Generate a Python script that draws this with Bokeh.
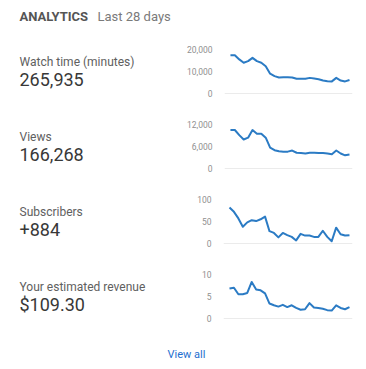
from bokeh.plotting import figure
from bokeh.layouts import column, row
from bokeh.models import Range1d, FixedTicker, NumeralTickFormatter, Span
from bokeh.core.properties import value
from bokeh.embed import file_html
from bokeh.resources import INLINE

# ---- data ----
days = list(range(28))
watch_time = [17400, 17400, 15500, 14000, 14700, 16200, 14700, 14000, 12400, 9000,
              7900, 7300, 7400, 7400, 7300, 6700, 6700, 6700, 7100, 6800,
              6500, 5900, 5600, 5500, 7100, 5900, 5500, 6100]
views = [10500, 10500, 9100, 7900, 8400, 10500, 9500, 9500, 8400, 5700,
         5000, 4700, 4600, 4600, 4900, 4300, 4200, 4100, 4300, 4300,
         4200, 4200, 4100, 3900, 4900, 4100, 3600, 3800]
subscribers = [82, 72, 57, 38, 48, 53, 51, 55, 61, 28,
               24, 14, 24, 19, 15, 7, 22, 18, 18, 15,
               15, 29, 15, 5, 36, 21, 18, 19]
revenue = [6.8, 7.0, 5.5, 5.5, 5.8, 8.3, 6.6, 6.4, 5.7, 3.4,
           3.0, 2.7, 3.1, 2.6, 3.0, 2.4, 2.0, 2.1, 3.5, 2.5,
           2.4, 2.2, 1.9, 1.8, 3.0, 2.4, 2.1, 2.6]

metric_names = ["Watch time (minutes)", "Views", "Subscribers", "Your estimated revenue"]
metric_totals = ["265,935", "166,268", "+884", "$109.30"]
axis_max = [20000, 12000, 100, 10]
axis_ticks = [[0, 10000, 20000], [0, 6000, 12000], [0, 50, 100], [0, 5, 10]]
series = [watch_time, views, subscribers, revenue]

header_title = "ANALYTICS"
header_sub = "Last 28 days"
footer_link = "View all"

FONT = value("Roboto")
LINE_COLOR = "#2b7bc4"


def text_fig(w, h):
    p = figure(width=w, height=h, x_range=Range1d(0, w), y_range=Range1d(h, 0),
               x_axis_type=None, y_axis_type=None, toolbar_location=None,
               output_backend="svg", min_border=0)
    p.outline_line_color = None
    p.grid.visible = False
    return p


# header
hdr = text_fig(366, 38)
hdr.text(x=[19], y=[16], text=[header_title], text_font=FONT, text_font_size=value("13px"),
         text_font_style="bold", text_color="#555555", text_baseline="middle")
hdr.text(x=[97], y=[16], text=[header_sub], text_font=FONT, text_font_size=value("13px"),
         text_color="#7a7a7a", text_baseline="middle")

rows = []
for name, total, ymax, ticks, data in zip(metric_names, metric_totals, axis_max, axis_ticks, series):
    left = text_fig(183, 75)
    left.text(x=[19], y=[21], text=[name], text_font=FONT, text_font_size=value("12px"),
              text_color="#606060", text_baseline="middle")
    left.text(x=[19], y=[49], text=[total], text_font=FONT, text_font_size=value("18px"),
              text_color="#383838", text_baseline="middle")

    ch = figure(width=183, height=75, x_range=Range1d(-1.35, 27.68),
                y_range=Range1d(-2 / 44 * ymax, ymax), x_axis_type=None,
                toolbar_location=None, output_backend="svg",
                min_border_left=40, min_border_right=14, min_border_top=11, min_border_bottom=18)
    ch.outline_line_color = None
    ch.grid.visible = False
    ch.yaxis.ticker = FixedTicker(ticks=ticks)
    ch.yaxis.formatter = NumeralTickFormatter(format="0,0")
    ch.yaxis.axis_line_color = None
    ch.yaxis.major_tick_line_color = None
    ch.yaxis.minor_tick_line_color = None
    ch.yaxis.major_label_standoff = 6
    ch.yaxis.major_label_text_font = "Roboto"
    ch.yaxis.major_label_text_font_size = "8.5px"
    ch.yaxis.major_label_text_color = "#909090"
    ch.add_layout(Span(location=0, dimension="width", line_color="#ebebeb", line_width=1))
    ch.line(days, data, line_color=LINE_COLOR, line_width=2, line_join="round")
    rows.append(row(left, ch, spacing=0))

ftr = text_fig(366, 23)
ftr.text(x=[186], y=[16], text=[footer_link], text_font=FONT, text_font_size=value("11px"),
         text_color="#1f6fcf", text_baseline="middle", text_align="center")

layout = column(hdr, *rows, ftr, spacing=0)

open("out.html", "w").write(file_html(layout, INLINE))
